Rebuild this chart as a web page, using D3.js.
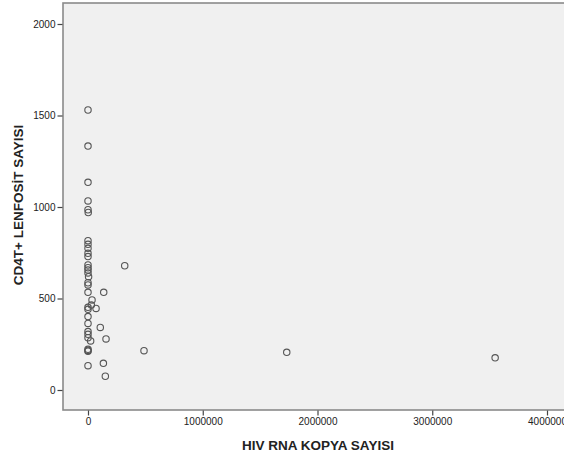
<!DOCTYPE html>
<html>
<head>
<meta charset="utf-8">
<script src="https://cdn.jsdelivr.net/npm/d3@7"></script>
<style>
  html, body { margin: 0; padding: 0; background: #fff; }
  svg { display: block; font-family: Arial, "Liberation Sans", sans-serif; }
</style>
</head>
<body>
<div id="chart"></div>
<script>
// HIV RNA copy count (x) and CD4T+ lymphocyte count (y), one entry per patient
const hivRna = [
    0, 0, 0, 0, 0, 2000,
    0, 0, 0, 0, 0, 0, 0, 0, 0, 5000, 0, 0, 0,
    0, 0, 0, 0, 0, 0, 0, 0, 0, 0, 0,
    35000, 29000, 70000, 107000, 23000, 157000, 488000,
    134000, 151000, 320000, 137000, 1732000, 3548000
];
const cd4Count = [
    1530, 1333, 1135, 1033, 985, 970,
    816, 796, 774, 747, 729, 683, 668, 656, 640, 619, 586, 574, 534,
    452, 441, 401, 364, 319, 304, 286, 222, 216, 212, 133,
    492, 464, 446, 342, 268, 279, 215,
    146, 75, 679, 534, 206, 176
];
const xTicks = [0, 1000000, 2000000, 3000000, 4000000];
const yTicks = [0, 500, 1000, 1500, 2000];

const xTitle = 'HIV RNA KOPYA SAYISI';
const yTitle = 'CD4T+ LENFOSİT SAYISI';

const width = 564, height = 459;
const frame = { left: 63, top: 3, right: 610, bottom: 410 };

const svg = d3.select('#chart')
    .append('svg')
    .attr('width', width)
    .attr('height', height);

// scales
const x = d3.scaleLinear().domain([0, 4000000]).range([88, 547]);
const y = d3.scaleLinear().domain([0, 2000]).range([390, 24]);

// plot background
svg.append('rect')
    .attr('x', frame.left)
    .attr('y', frame.top)
    .attr('width', frame.right - frame.left)
    .attr('height', frame.bottom - frame.top)
    .attr('fill', '#f0f0f0')
    .attr('stroke', '#8a8a8a')
    .attr('stroke-width', 1.6);

// axes
const yAxis = svg.append('g')
    .attr('transform', `translate(${frame.left - 0.5},0)`)
    .call(d3.axisLeft(y).tickValues(yTicks).tickSize(5).tickPadding(2).tickFormat(d3.format('d')));

const xAxis = svg.append('g')
    .attr('transform', `translate(0,${frame.bottom + 0.5})`)
    .call(d3.axisBottom(x).tickValues(xTicks).tickSize(5).tickPadding(2).tickFormat(d3.format('d')));

[xAxis, yAxis].forEach(g => {
    g.select('.domain').remove();
    g.selectAll('.tick line').attr('stroke', '#444').attr('stroke-width', 1.2);
    g.selectAll('.tick text')
        .attr('fill', '#222')
        .style('font-size', '10px')
        .style('font-family', 'Arial, "Liberation Sans", sans-serif');
});

// points
svg.append('g')
    .selectAll('circle')
    .data(hivRna.map((v, i) => [v, cd4Count[i]]))
    .join('circle')
    .attr('cx', d => x(d[0]))
    .attr('cy', d => y(d[1]))
    .attr('r', 3.2)
    .attr('fill', 'none')
    .attr('stroke', '#555')
    .attr('stroke-width', 1.1);

// axis titles
svg.append('text')
    .attr('x', 318)
    .attr('y', 450)
    .attr('text-anchor', 'middle')
    .style('font-size', '13.5px')
    .style('font-weight', 'bold')
    .attr('fill', '#222')
    .text(xTitle);

svg.append('text')
    .attr('transform', 'translate(23,205) rotate(-90)')
    .attr('text-anchor', 'middle')
    .style('font-size', '13.5px')
    .style('font-weight', 'bold')
    .attr('fill', '#222')
    .text(yTitle);
</script>
</body>
</html>
